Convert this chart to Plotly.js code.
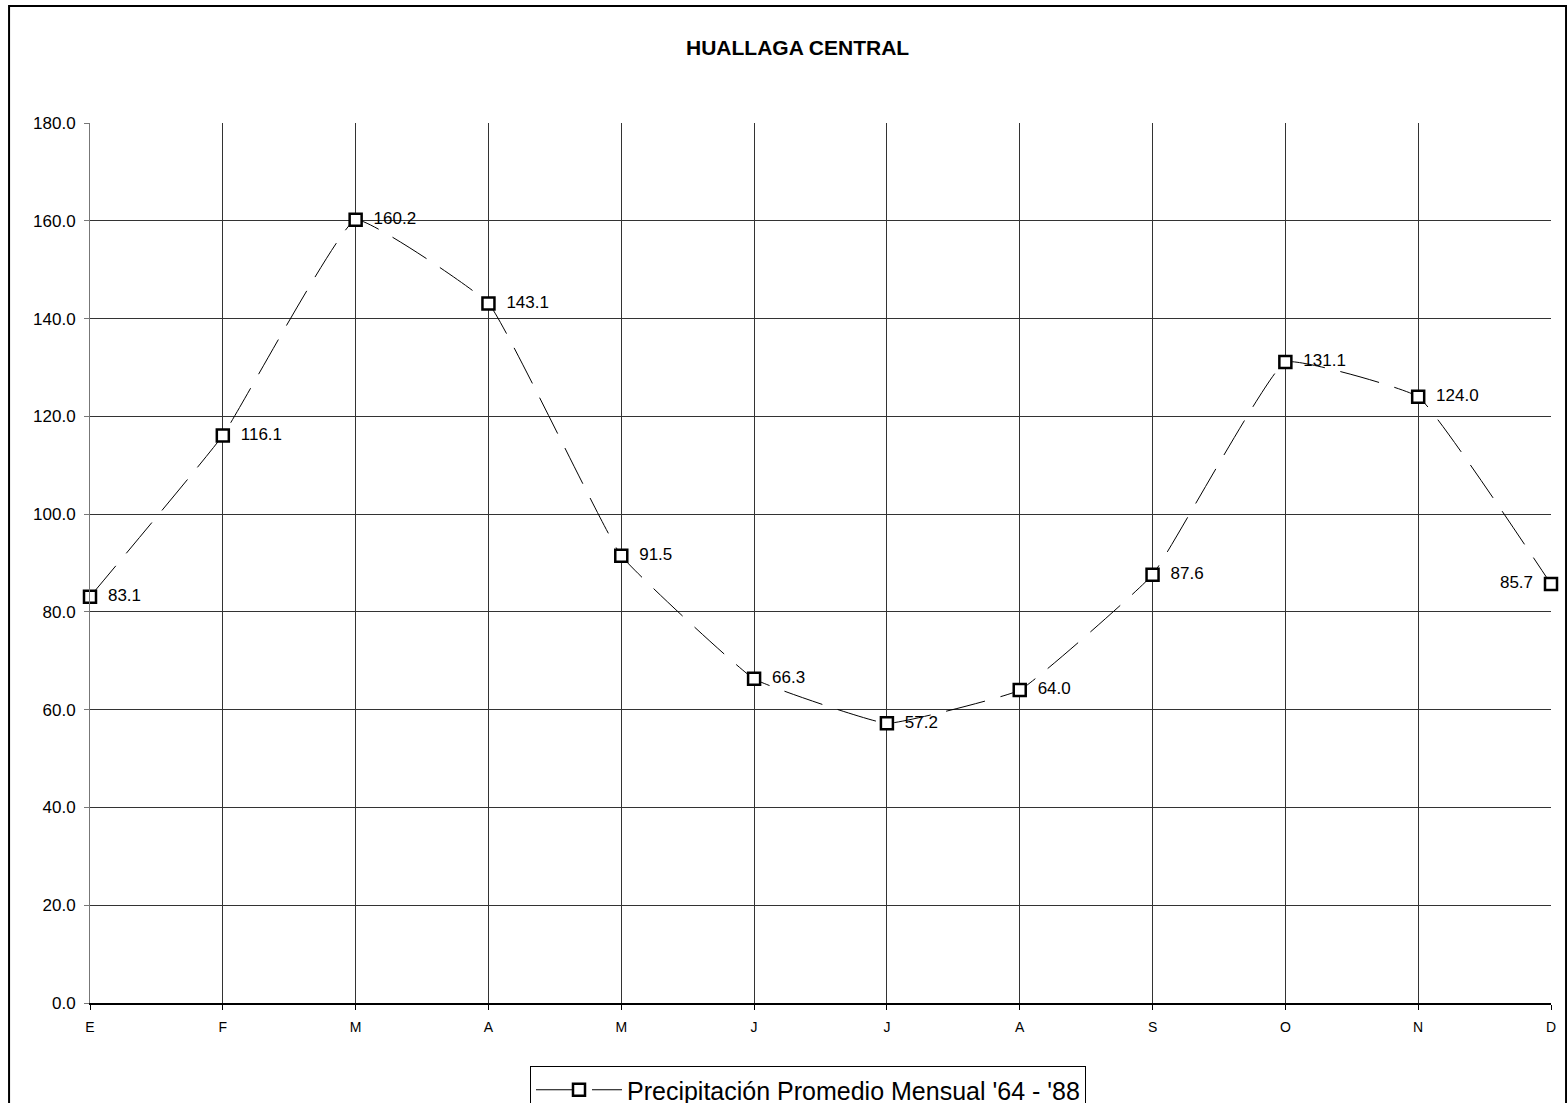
<!DOCTYPE html>
<html>
<head>
<meta charset="utf-8">
<script src="https://cdn.plot.ly/plotly-3.0.1.min.js"></script>
<style>html,body{margin:0;padding:0;background:#fff;}#chart{width:1567px;height:1103px;}</style>
</head>
<body>
<div id="chart"></div>
<script>
const months = ["E","F","M","A","M","J","J","A","S","O","N","D"];
const precip = [83.1, 116.1, 160.2, 143.1, 91.5, 66.3, 57.2, 64.0, 87.6, 131.1, 124.0, 85.7];
const seriesName = "Precipitación Promedio Mensual '64 - '88";
const chartTitle = "HUALLAGA CENTRAL";
const yTicks = [0,20,40,60,80,100,120,140,160,180];

const xIdx = months.map((m,i)=>i);
const last = precip.length - 1;
const labelPos = precip.map((v,i)=> i===last ? "middle left" : "middle right");
const labelText = precip.map((v,i)=> i===last ? v.toFixed(1) + "\u00a0\u00a0" : "\u00a0\u00a0" + v.toFixed(1));

const FONT = "Liberation Sans, Arial, sans-serif";

const trace = {
  x: xIdx, y: precip, type: "scatter", mode: "lines+markers+text",
  name: seriesName,
  line: {color: "#000", width: 1, dash: "40px,16px", shape: "spline", smoothing: 0.3},
  marker: {symbol: "square", size: 12, color: "#fff", line: {color: "#000", width: 2.5}},
  text: labelText,
  textposition: labelPos,
  textfont: {family: FONT, size: 17, color: "#000"},
  cliponaxis: false
};

const layout = {
  width: 1567, height: 1103,
  margin: {l: 90, r: 16, t: 123, b: 100},
  paper_bgcolor: "#fff", plot_bgcolor: "#fff",
  font: {family: FONT, color: "#000"},
  title: {text: "<b>" + chartTitle + "</b>", xref: "container", yref: "container", x: 0.509, y: 0.9565, xanchor: "center", yanchor: "middle",
          font: {family: FONT, size: 21, color: "#000"}},
  xaxis: {range: [0, 11], tickmode: "array", tickvals: xIdx, ticktext: months,
          showgrid: true, gridcolor: "#333", gridwidth: 1, zeroline: false,
          showline: true, linecolor: "#000", linewidth: 1.5,
          ticks: "outside", ticklen: 5, tickcolor: "#000", tickfont: {size: 14}, ticklabelstandoff: 6,
          fixedrange: true, automargin: false},
  yaxis: {range: [0, 180], tickmode: "array", tickvals: yTicks, ticktext: yTicks.map(v=>v.toFixed(1)),
          showgrid: true, gridcolor: "#333", gridwidth: 1, zeroline: false,
          showline: true, linecolor: "#777", linewidth: 1,
          ticks: "outside", ticklen: 5, tickcolor: "#777", tickfont: {size: 17}, ticklabelstandoff: 5,
          fixedrange: true, automargin: false},
  showlegend: true,
  legend: {xref: "container", yref: "container", x: 530/1567, y: 1 - 1066/1103, xanchor: "left", yanchor: "top", orientation: "h",
           bordercolor: "#000", borderwidth: 1, bgcolor: "#fff", itemwidth: 86,
           font: {size: 25, family: FONT}},
  shapes: [{type: "rect", xref: "paper", yref: "paper", x0: -0.0554, x1: 1.0103, y0: -0.12, y1: 1.133,
            line: {color: "#000", width: 2}, fillcolor: "rgba(0,0,0,0)", layer: "below"}]
};

Plotly.newPlot("chart", [trace], layout, {displayModeBar: false, staticPlot: true});
</script>
</body>
</html>
